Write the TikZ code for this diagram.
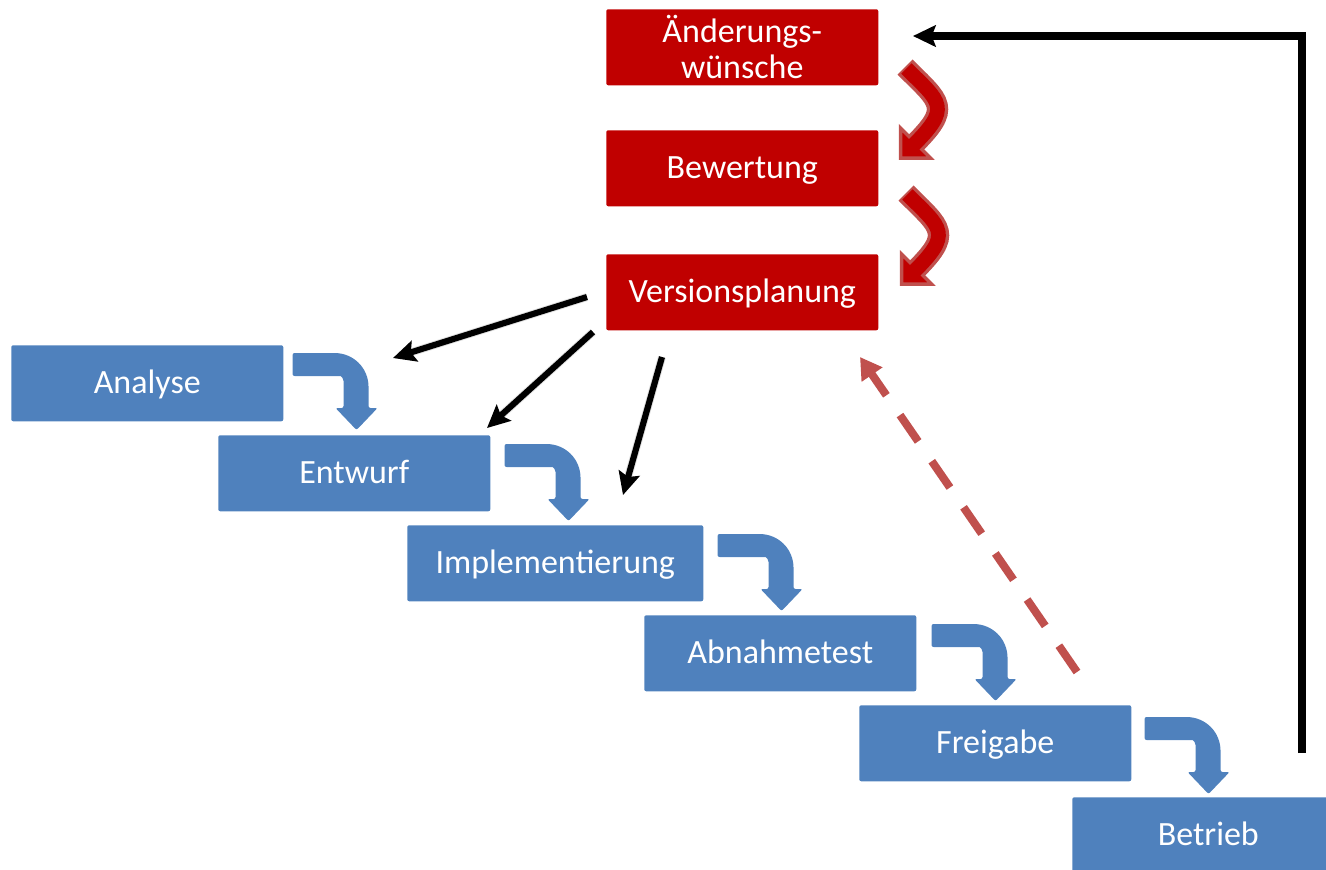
\documentclass[tikz,border=0pt]{standalone}
\usepackage{fontspec}
\setmainfont{Carlito}
\usetikzlibrary{arrows.meta,calc}
\definecolor{boxred}{HTML}{C00000}
\definecolor{boxblue}{HTML}{4F81BD}
\definecolor{redline}{HTML}{C0504D}

\tikzset{
  box/.style={rectangle, rounded corners=1.5pt, minimum width=204pt,
    minimum height=57pt, inner sep=0pt, text=white,
    text height=20pt, text depth=4pt,
    font=\fontsize{25.5}{28}\selectfont, align=center, anchor=north west},
  redbox/.style={box, fill=boxred},
  bluebox/.style={box, fill=boxblue},
  flow/.style={line width=4.6pt, line join=miter,
    -{Stealth[length=17pt,width=16pt,inset=3pt]}},
  flowshadow/.style={flow, draw=black, opacity=0.12, line width=6pt,
    shift={(2,3)}},
  backflow/.style={draw=redline, line width=6pt,
    dash pattern=on 24pt off 18pt,
    -{Triangle[length=16pt,width=18pt]}},
  % blue bent block arrow from one phase to the next
  bent/.pic={
    \fill[boxblue, rounded corners=1.5pt]
      (0,0) -- (40,0) .. controls (61,0) and (76,15) .. (76,36)
      -- (76,55) -- (85,55) -- (64,77) -- (43,55) -- (51,55)
      -- (51,30) .. controls (51,26) and (49,23) .. (46,23)
      -- (0,23) -- cycle;
  },
  % red curved block arrow between the change-management steps
  curl/.pic={
    \draw[redline, line width=16pt, shorten >=-3pt]
      (0,0) .. controls (36,36) and (47,40) .. (10.5,76);
    \filldraw[fill=boxred, draw=redline, line width=2.6pt, line join=miter]
      (-4.5,61) -- (25.5,91) -- (-4.5,91) -- cycle;
    \draw[boxred, line width=11pt, shorten >=-4pt, shorten <=1.5pt]
      (0,0) .. controls (36,36) and (47,40) .. (10.5,76);
  }
}

\begin{document}
\begin{tikzpicture}[x=0.75pt,y=-0.75pt]
\useasboundingbox (0,0) rectangle (1326,869);
\clip (0,0) rectangle (1326,869);

% change-management boxes
\node[redbox, text height=, text depth=] (aw) at (606,9) {Änderungs-\\[-1pt]wünsche};
\node[redbox] (bw) at (606,130) {Bewertung};
\node[redbox] (vp) at (606,254) {Versionsplanung};

% waterfall phases
\node[bluebox] (an) at (11,345)   {Analyse};
\node[bluebox] (en) at (218,435)  {Entwurf};
\node[bluebox, minimum width=222pt] (im) at (407,525) {Implementierung};
\node[bluebox] (ab) at (644,615)  {Abnahmetest};
\node[bluebox] (fr) at (859,705)  {Freigabe};
\node[bluebox] (be) at (1072,797) {Betrieb};

% stepping arrows between the phases
\pic at ($(an.north east)+(9,8)$)   {bent};
\pic at ($(en.north east)+(14,9)$)  {bent};
\pic at ($(im.north east)+(14,9)$)  {bent};
\pic at ($(ab.north east)+(15,9)$)  {bent};
\pic at ($(fr.north east)+(13,12)$) {bent};

% curved arrows between the red steps
\pic at ($(aw.south east)+(26.5,-18.5)$) {curl};
\pic at ($(bw.south east)+(27.5,-13.5)$) {curl};

% arrows out of the release planning
\coordinate (p1s) at (587,297);  \coordinate (p1e) at (393,358);
\coordinate (p2s) at (593,332);  \coordinate (p2e) at (487,428);
\coordinate (p3s) at (662,357);  \coordinate (p3e) at (623,495);
\foreach \s/\e in {p1s/p1e, p2s/p2e, p3s/p3e} {
  \draw[flowshadow] (\s) -- (\e);
  \draw[flow] (\s) -- (\e);
}

% loop from operation back to change requests
\coordinate (fbs) at (1302,753);
\coordinate (fbc) at (1302,36);
\coordinate (fbe) at (913,36);
\draw[flowshadow] (fbs) -- (fbc) -- (fbe);
\draw[flow, line width=5.5pt] (fbs) -- (fbc) -- (fbe);

% dashed feedback from release to planning
\coordinate (rbs) at (1077,672);
\coordinate (rbe) at (860,357);
\draw[backflow] (rbs) -- (rbe);
\end{tikzpicture}
\end{document}
